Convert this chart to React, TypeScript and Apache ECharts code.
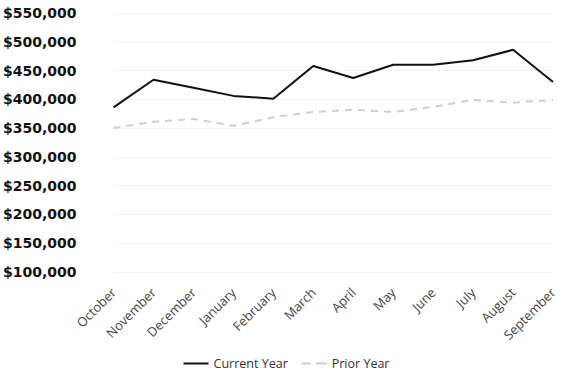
import React, { useEffect, useRef } from "react";
import * as echarts from "echarts";

const months = ["October", "November", "December", "January", "February", "March", "April", "May", "June", "July", "August", "September"];
const currentYear = [386000, 434000, 420000, 406000, 401000, 458000, 437000, 460000, 460000, 468000, 486000, 430000];
const priorYear = [350000, 361000, 366000, 354000, 369000, 378000, 382000, 378000, 387000, 399000, 394000, 399000];
const yMin = 100000;
const yMax = 550000;
const yStep = 50000;

export default function App() {
  const ref = useRef<HTMLDivElement>(null);
  useEffect(() => {
    if (!ref.current) return;
    const chart = echarts.init(ref.current, null, { renderer: "svg" });
    chart.setOption({
      animation: false,
      backgroundColor: "#ffffff",
      grid: { left: 112, right: 20, top: 13, bottom: 107, containLabel: false },
      legend: {
        bottom: 4,
        left: "center",
        itemWidth: 25,
        itemHeight: 2,
        itemGap: 14,
        textStyle: { fontFamily: "Open Sans", fontSize: 12.5, color: "#333" },
        data: [
          { name: "Current Year", icon: "rect", itemStyle: { color: "#111" } },
          { name: "Prior Year", icon: "path://M0,0h9v2h-9z M14,0h11v2h-11z", itemStyle: { color: "#cfcfcf" } },
        ],
      },
      xAxis: {
        type: "category",
        data: months,
        boundaryGap: false,
        axisLine: { show: false },
        axisTick: { show: false },
        axisLabel: {
          rotate: 45,
          margin: 18,
          interval: 0,
          fontFamily: "Open Sans",
          fontSize: 13,
          color: "#444",
        },
        splitLine: { show: false },
      },
      yAxis: {
        type: "value",
        min: yMin,
        max: yMax,
        interval: yStep,
        axisLine: { show: false },
        axisTick: { show: false },
        axisLabel: {
          margin: 37,
          fontFamily: "DejaVu Sans",
          fontWeight: "bold",
          fontSize: 14,
          color: "#111",
          formatter: (v: number) => "$" + v.toLocaleString("en-US"),
        },
        splitLine: { show: true, lineStyle: { color: "#f5f5f5", width: 1 } },
      },
      series: [
        {
          name: "Current Year",
          type: "line",
          data: currentYear,
          symbol: "none",
          lineStyle: { color: "#111", width: 2 },
          itemStyle: { color: "#111" },
        },
        {
          name: "Prior Year",
          type: "line",
          data: priorYear,
          symbol: "none",
          lineStyle: { color: "#cfcfcf", width: 2, type: [7, 6] },
          itemStyle: { color: "#cfcfcf" },
        },
      ],
    });
    return () => chart.dispose();
  }, []);
  return <div ref={ref} style={{ position: "fixed", left: 0, top: 0, width: 573, height: 379 }} />;
}
